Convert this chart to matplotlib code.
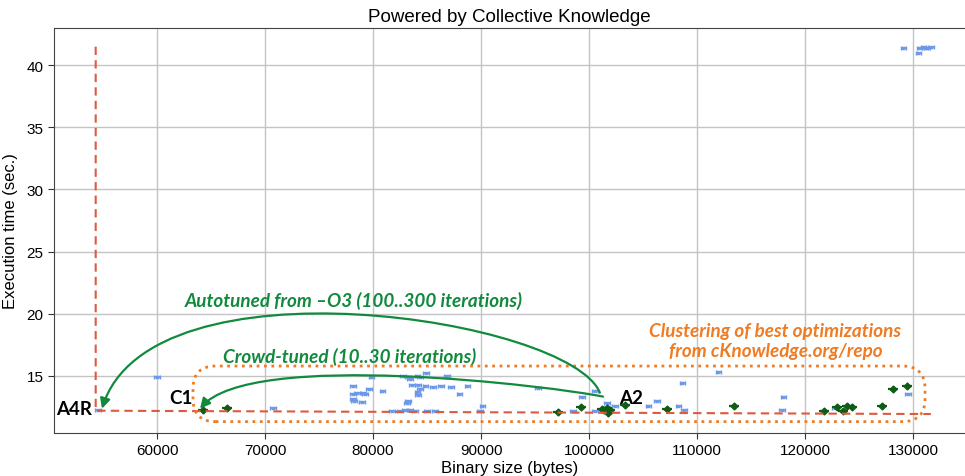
import numpy as np
import matplotlib
matplotlib.use('agg')
import matplotlib.pyplot as plt
from matplotlib.patches import FancyArrowPatch, FancyBboxPatch
from matplotlib.path import Path

plt.rcParams['font.family'] = ['Liberation Sans', 'DejaVu Sans']

# all optimisation points (binary size, execution time)
blue_x = [60000, 54540, 70740, 78150, 79820, 79630, 78150, 78520, 79080, 79260,
          78150, 78240, 78980, 80840, 82780, 83240, 83430, 84080, 84350, 84910,
          83610, 84170, 84820, 84350, 84080, 84170, 85560, 86300, 86850, 87220,
          87970, 88710, 83240, 83150, 81760, 82500, 82960, 83430, 83890, 85000,
          85740, 90100, 89910, 95280, 98520, 99350, 100560, 100560, 101670, 102410,
          105470, 106300, 108250, 108800, 108620, 111950, 117970, 117870, 122780, 129540,
          129080, 130470, 130560, 130930, 131300, 131670, 131100]
blue_y = [14.9, 12.27, 12.43, 14.2, 14.92, 13.95, 13.55, 13.63, 13.63, 13.55,
          13.15, 12.99, 12.91, 13.79, 15.0, 14.92, 14.76, 15.0, 14.92, 15.24,
          14.28, 14.28, 14.2, 13.95, 13.71, 13.47, 14.12, 14.2, 15.0, 14.12,
          13.55, 14.2, 12.99, 12.83, 12.19, 12.19, 12.27, 12.27, 12.19, 12.19,
          12.19, 12.59, 12.19, 14.04, 12.19, 13.31, 13.79, 12.19, 12.83, 12.59,
          12.59, 12.99, 12.59, 12.27, 14.44, 15.32, 13.31, 12.27, 12.43, 13.55,
          41.37, 40.97, 41.37, 41.45, 41.37, 41.45, 41.4]

# best (pareto) optimisations
green_x = [64260, 66480, 97130, 99260, 101210, 101670, 101950, 101760, 101400, 103340,
           107230, 113430, 121760, 122970, 123890, 124360, 123520, 127130, 128150, 129450]
green_y = [12.27, 12.43, 12.1, 12.5, 12.35, 12.43, 12.27, 12.03, 12.3, 12.67,
           12.35, 12.59, 12.19, 12.51, 12.59, 12.51, 12.19, 12.59, 13.95, 14.2]

# frontier line
front_x = [54320, 54320, 131650]
front_y = [41.48, 12.21, 11.94]

x_ticks = [60000, 70000, 80000, 90000, 100000, 110000, 120000, 130000]
y_ticks = [15, 20, 25, 30, 35, 40]

blue_c = '#6c98ea'
green_c = '#0f5c16'
red_c = '#dc5a3e'
arrow_c = '#128a3e'
orange_c = '#ef7b22'

fig = plt.figure(figsize=(9.65, 4.77), dpi=100)
ax = fig.add_axes([54/965., 43.3/477., 911/965., 404.7/477.])

ax.errorbar(blue_x, blue_y, xerr=240, yerr=0.07, fmt='none', ecolor=blue_c,
            elinewidth=1.3, capsize=1.3, zorder=3)
ax.errorbar(green_x, green_y, xerr=480, fmt='D', ms=3.5, color=green_c,
            ecolor=green_c, elinewidth=1.6, capsize=0, zorder=4)
ax.plot(front_x, front_y, '--', color=red_c, linewidth=1.5, dashes=(4, 2.5), zorder=5)

ax.set_xlim(50460, 134810)
ax.set_ylim(10.44, 42.98)
ax.set_xticks(x_ticks)
ax.set_yticks(y_ticks)
ax.tick_params(labelsize=11, length=4, color='#333333')
ax.grid(True, color='#c4c4c4', linewidth=1.0)
ax.set_axisbelow(True)
for s in ['left', 'bottom', 'top']:
    ax.spines[s].set_color('#444444')
ax.spines['right'].set_visible(False)

ax.set_xlabel('Binary size (bytes)', fontsize=12, labelpad=2)
ax.set_ylabel('Execution time (sec.)', fontsize=12, labelpad=6)
ax.set_title('Powered by Collective Knowledge', fontsize=13.5, pad=5)

# clustering box
aspect = 0.0804 / 92.59
box = FancyBboxPatch((63330, 11.33), 131110 - 63330, 15.8 - 11.33,
                     boxstyle='round,pad=0,rounding_size=2100', mutation_aspect=aspect,
                     fill=False, edgecolor=orange_c, linestyle=':', linewidth=2, zorder=6)
ax.add_patch(box)

# curved arrows
codes = [Path.MOVETO, Path.CURVE4, Path.CURVE4, Path.CURVE4]
p1 = Path([(101000, 13.66), (98240, 19.61), (59350, 24.83), (54900, 12.37)], codes)
p2 = Path([(101300, 13.34), (96850, 14.14), (68610, 17.19), (63980, 12.37)], codes)
for p in [p1, p2]:
    a = FancyArrowPatch(path=p, arrowstyle='-|>,head_length=6,head_width=3',
                        color=arrow_c, linewidth=1.6, zorder=7)
    ax.add_patch(a)

lbl = dict(family=['Lato', 'DejaVu Sans'], fontweight='bold', fontsize=13.5, zorder=8)
ax.text(53980, 12.37, 'A4R', ha='right', va='center', **lbl)
ax.text(62220, 13.26, 'C1', ha='center', va='center', **lbl)
ax.text(103890, 13.26, 'A2', ha='center', va='center', **lbl)

note = dict(family=['Lato', 'DejaVu Sans'], fontweight='bold', style='italic', fontsize=13.6)
ax.text(78240, 21.13, 'Autotuned from \u2013O3 (100..300 iterations)', ha='center', va='center',
        color=arrow_c, **note)
ax.text(77870, 16.63, 'Crowd-tuned (10..30 iterations)', ha='center', va='center',
        color=arrow_c, **note)
ax.text(117250, 17.85, 'Clustering of best optimizations\nfrom cKnowledge.org/repo',
        ha='center', va='center', color=orange_c, linespacing=1.25, **note)

fig.savefig('out.png', dpi=100)
plt.close(fig)
